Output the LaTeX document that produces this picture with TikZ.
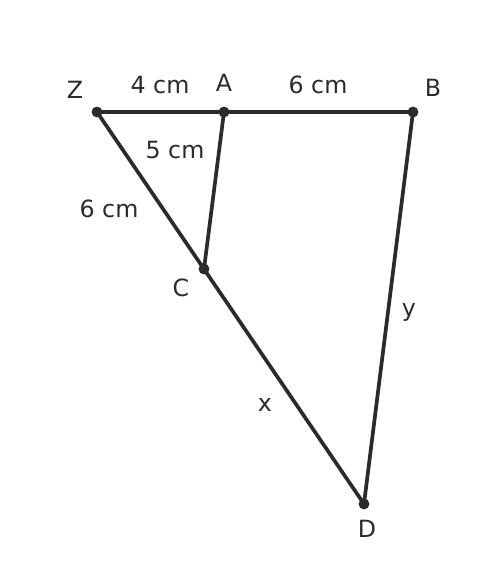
\documentclass[tikz,border=0pt]{standalone}
\usepackage{fontspec}
\setmainfont{DejaVu Sans}
\usetikzlibrary{calc}

\begin{document}
\begin{tikzpicture}[
        seg/.style={line width=2.1pt, draw=black!83},
        lbl/.style={text=black!83, font=\fontsize{13.5}{16}\selectfont, inner sep=0pt}
    ]
            \useasboundingbox (0,0) rectangle (9.92,11.52);
            
            \coordinate (Z) at (1.94,9.28);
            \coordinate (A) at (4.48,9.28);
            \coordinate (B) at (8.26,9.28);
            \coordinate (C) at (4.08,6.14);
            \coordinate (D) at (7.28,1.44);
            
            \draw[seg] (Z)--(B) (Z)--(D) (A)--(C) (B)--(D);
            
            \foreach \p in {Z, A, B, C, D} {
                \fill[black!83] (\p) circle (3.1pt);
            }
            
            \foreach \x/\y/\n in {1.50/9.72/Z, 4.48/9.86/A, 8.66/9.76/B, 3.62/5.76/C, 7.34/0.94/D} {
                \node[lbl] (lbl\n) at (\x,\y) {\n};
            }
            
            \node[lbl] (za) at (3.20,9.82) {4 cm};
            \node[lbl] (ab) at (6.36,9.82) {6 cm};
            \node[lbl] (ac) at (3.50,8.52) {5 cm};
            \node[lbl] (zc) at (2.18,7.34) {6 cm};
            \node[lbl] (cd) at (5.30,3.42) {x};
            \node[lbl] (bd) at (8.18,5.27) {y};
            
        \end{tikzpicture}
\end{document}
